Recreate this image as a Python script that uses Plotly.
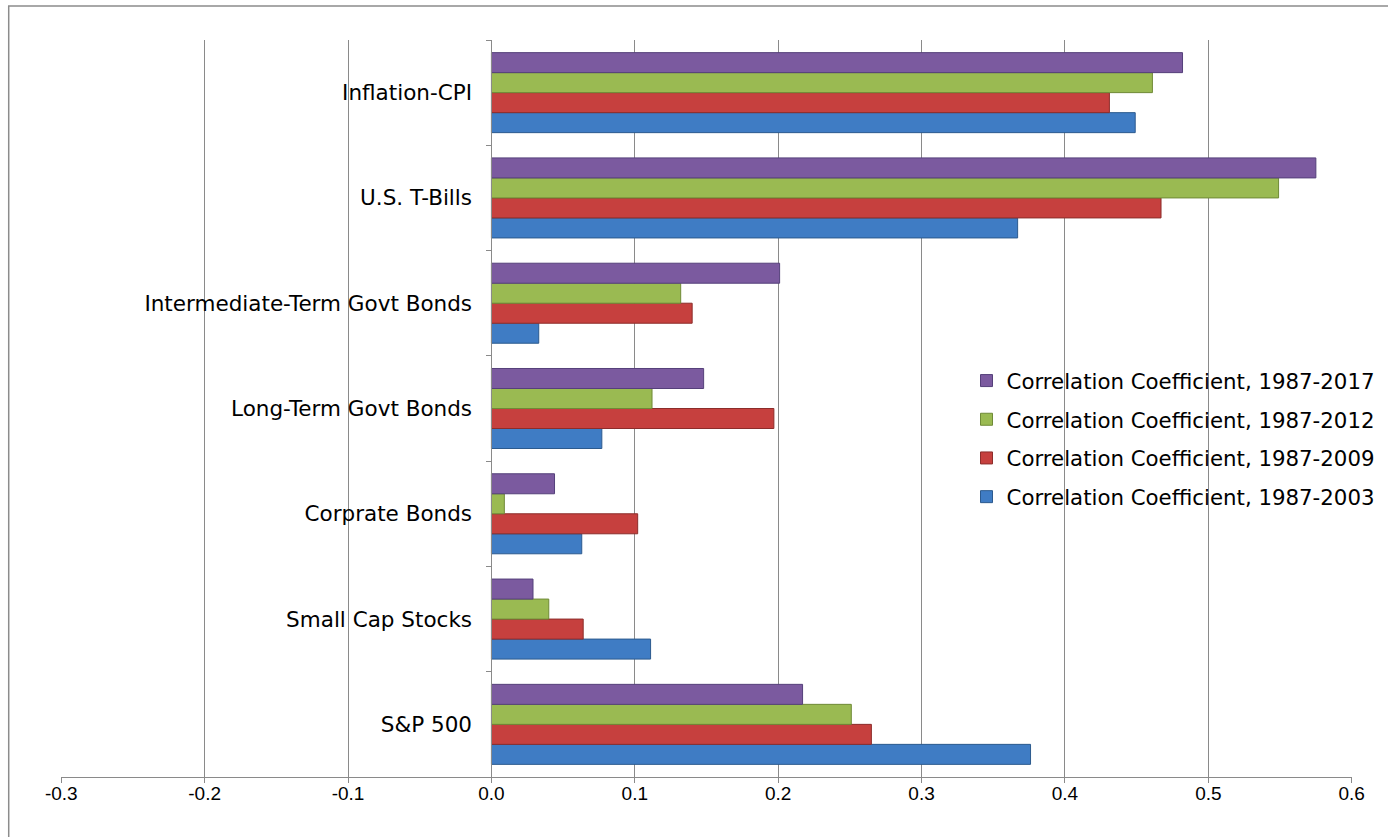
import plotly.graph_objects as go

# Asset classes, listed bottom to top as drawn on the category axis
categories = [
    "S&P 500",
    "Small Cap Stocks",
    "Corprate Bonds",
    "Long-Term Govt Bonds",
    "Intermediate-Term Govt Bonds",
    "U.S. T-Bills",
    "Inflation-CPI",
]

# Correlation coefficients for each sample period
corr_1987_2003 = [0.376, 0.111, 0.063, 0.077, 0.033, 0.367, 0.449]
corr_1987_2009 = [0.265, 0.064, 0.102, 0.197, 0.140, 0.467, 0.431]
corr_1987_2012 = [0.251, 0.040, 0.009, 0.112, 0.132, 0.549, 0.461]
corr_1987_2017 = [0.217, 0.029, 0.044, 0.148, 0.201, 0.575, 0.482]

series_names = [
    "Correlation Coefficient, 1987-2003",
    "Correlation Coefficient, 1987-2009",
    "Correlation Coefficient, 1987-2012",
    "Correlation Coefficient, 1987-2017",
]

x_tick_vals = [-0.3, -0.2, -0.1, 0.0, 0.1, 0.2, 0.3, 0.4, 0.5, 0.6]
x_tick_text = ["-0.3", "-0.2", "-0.1", "0.0", "0.1", "0.2", "0.3", "0.4", "0.5", "0.6"]

fills = ["#3f7cc4", "#c6403e", "#9aba52", "#7b5a9f"]
edges = ["#2c5a8e", "#8c2d2b", "#6f8a37", "#55407a"]

fig = go.Figure()
for i, (name, vals, fill, edge) in enumerate(zip(
    series_names,
    [corr_1987_2003, corr_1987_2009, corr_1987_2012, corr_1987_2017],
    fills,
    edges,
)):
    fig.add_trace(
        go.Bar(
            y=categories,
            x=vals,
            name=name,
            orientation="h",
            legendgroup=name,
            legendrank=100 - i,  # newest period listed first
            marker=dict(color=fill, line=dict(color=edge, width=1)),
        )
    )

grid_gray = "#8a8a8a"
label_font = "DejaVu Sans, Verdana, sans-serif"

fig.update_layout(
    width=1388,
    height=837,
    margin=dict(l=61, r=36, t=40, b=60, autoexpand=False),
    paper_bgcolor="white",
    plot_bgcolor="white",
    barmode="group",
    bargap=0.24,
    bargroupgap=0.0,
    font=dict(family=label_font, size=20, color="#000000"),
    legend=dict(
        x=0.7014,
        y=0.5655,
        xanchor="left",
        yanchor="top",
        traceorder="grouped",
        tracegroupgap=8,
        bgcolor="rgba(255,255,255,0)",
        font=dict(family=label_font, size=21.3, color="#000000"),
        itemwidth=30,
    ),
    xaxis=dict(
        range=[-0.3002, 0.6002],
        domain=[0, 1],
        tickvals=x_tick_vals,
        ticktext=x_tick_text,
        tickfont=dict(family="Liberation Sans Narrow, Liberation Sans, sans-serif", size=19),
        showgrid=True,
        gridcolor=grid_gray,
        gridwidth=1,
        zeroline=False,
        showline=True,
        linecolor=grid_gray,
        linewidth=1,
        ticks="outside",
        ticklen=5,
        tickcolor=grid_gray,
        ticklabelstandoff=-6,
        fixedrange=True,
    ),
    yaxis=dict(
        type="category",
        categoryorder="array",
        categoryarray=categories,
        anchor="free",
        position=1 / 3,
        showgrid=False,
        zeroline=False,
        showline=True,
        linecolor=grid_gray,
        linewidth=1,
        ticks="outside",
        tickson="boundaries",
        ticklen=5,
        tickcolor=grid_gray,
        ticklabelstandoff=15,
        tickfont=dict(family=label_font, size=21.5),
        fixedrange=True,
    ),
    showlegend=True,
)

# Outer chart-area frame
fig.add_shape(
    type="rect",
    xref="paper",
    yref="paper",
    x0=-0.0405,
    x1=1.04,
    y0=-0.12,
    y1=1.046,
    line=dict(color="#8c8c8c", width=1.5),
    fillcolor="rgba(0,0,0,0)",
    layer="below",
)

fig.write_html("out.html")
